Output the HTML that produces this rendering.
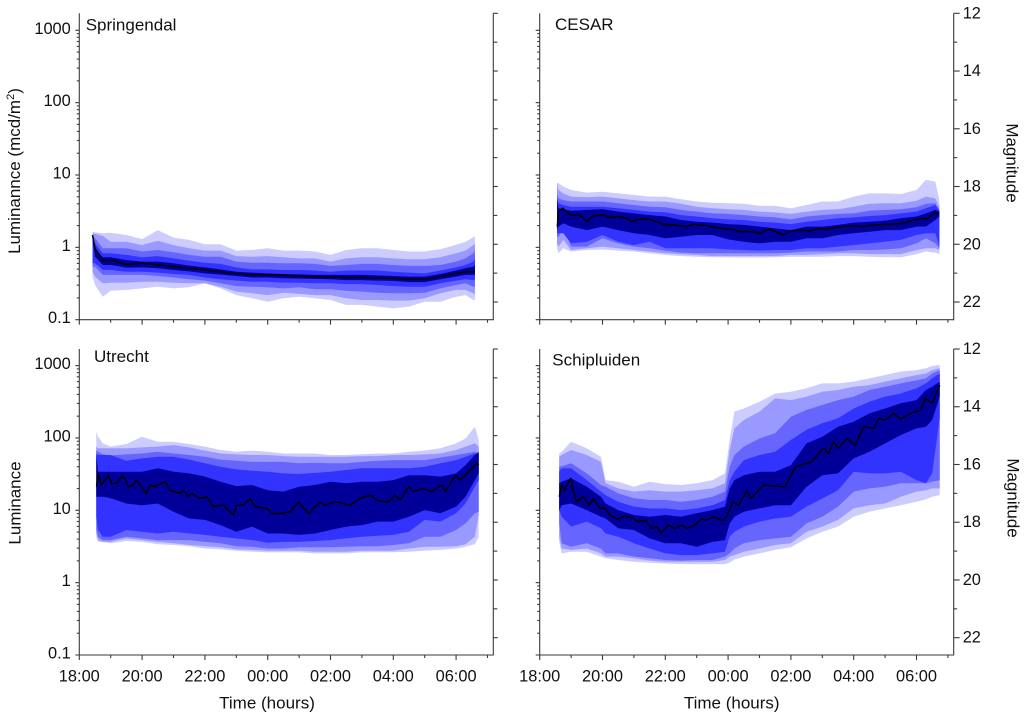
<!DOCTYPE html>
<html>
<head>
<meta charset="utf-8">
<title>Luminance by time at four sites</title>
<style>
html,body{margin:0;padding:0;background:#fff;}
svg{display:block;}
text{font-family:"Liberation Sans",Arial,sans-serif;font-size:16.4px;fill:#111;}
text.big{font-size:17px;}
</style>
</head>
<body>
<svg id="chart" xmlns="http://www.w3.org/2000/svg" width="1024" height="718" viewBox="0 0 1024 718"></svg>
<script>
// Hours after 18:00; every other series is in magnitude (right-hand axis).
const springTime = [0.42,0.5,0.75,1,1.5,2,2.5,3,3.5,4,4.5,5,5.5,6,6.5,7,7.5,8,8.5,9,9.5,10,10.5,11,11.5,12,12.3,12.55,12.6];
const springU1 = [19.57,19.59,19.62,19.60,19.68,19.82,19.51,19.77,19.85,20.0,20.0,20.22,20.2,20.14,20.22,20.22,20.25,20.37,20.2,20.14,20.14,20.2,20.25,20.25,20.17,20.02,19.91,19.76,19.71];
const springU2 = [19.62,19.64,19.71,19.91,19.91,20.03,19.88,20.03,20.14,20.22,20.22,20.41,20.43,20.41,20.45,20.49,20.49,20.60,20.49,20.45,20.45,20.49,20.52,20.52,20.45,20.31,20.22,20.03,19.97];
const springU3 = [19.68,19.79,20.14,20.14,20.14,20.25,20.2,20.28,20.37,20.43,20.43,20.6,20.64,20.64,20.66,20.66,20.68,20.75,20.72,20.68,20.68,20.72,20.75,20.75,20.72,20.6,20.49,20.31,20.2];
const springU4 = [19.74,19.97,20.31,20.31,20.37,20.45,20.41,20.49,20.57,20.64,20.68,20.8,20.87,20.87,20.89,20.89,20.91,20.95,20.91,20.91,20.91,20.95,20.98,21.01,20.91,20.8,20.72,20.6,20.49];
const springU5 = [19.76,20.14,20.45,20.45,20.55,20.6,20.6,20.66,20.74,20.8,20.87,20.95,20.98,21.01,21.03,21.04,21.06,21.06,21.06,21.06,21.08,21.1,21.12,21.12,21.03,20.91,20.83,20.78,20.72];
const springMedian = [19.68,20.14,20.57,20.55,20.70,20.66,20.72,20.78,20.83,20.89,20.95,21.02,21.06,21.06,21.08,21.11,21.13,21.13,21.15,21.15,21.17,21.18,21.21,21.21,21.12,21.01,20.95,20.95,20.95];
const springL5 = [19.85,20.43,20.72,20.72,20.81,20.8,20.83,20.89,20.94,21.01,21.05,21.1,21.15,21.15,21.18,21.19,21.2,21.21,21.24,21.24,21.26,21.27,21.31,21.31,21.21,21.12,21.06,21.06,21.06];
const springL4 = [20.66,20.66,20.89,20.89,20.95,20.95,20.98,21.03,21.06,21.15,21.21,21.26,21.3,21.3,21.33,21.33,21.35,21.35,21.38,21.38,21.41,21.45,21.47,21.47,21.35,21.26,21.21,21.24,21.24];
const springL3 = [20.78,20.78,21.06,21.06,21.06,21.06,21.1,21.15,21.21,21.26,21.35,21.45,21.47,21.49,21.53,21.49,21.56,21.56,21.61,21.64,21.68,21.7,21.7,21.68,21.53,21.41,21.35,21.47,21.47];
const springL2 = [20.95,21.12,21.35,21.33,21.33,21.3,21.3,21.33,21.35,21.35,21.47,21.64,21.7,21.76,21.68,21.72,21.76,21.76,21.87,21.93,21.93,21.95,21.95,21.87,21.7,21.58,21.58,21.7,21.76];
const springL1 = [21.12,21.41,21.82,21.61,21.58,21.53,21.47,21.53,21.49,21.35,21.53,21.76,21.87,21.99,21.87,21.82,21.87,21.93,22.1,22.1,22.16,22.22,22.16,21.99,21.99,21.82,21.76,21.93,21.93];

const cesarTime = [0.55,0.6,0.75,1,1.5,2,2.5,3,3.5,4,4.5,5,5.5,6,6.5,7,7.5,8,8.5,9,9.5,10,10.5,11,11.5,12,12.3,12.6,12.73];
const cesarU1 = [17.87,17.89,18.0,18.12,18.21,18.18,18.24,18.29,18.35,18.35,18.44,18.52,18.56,18.58,18.6,18.67,18.67,18.75,18.64,18.52,18.52,18.35,18.24,18.24,18.26,18.12,17.77,17.83,18.47];
const cesarU2 = [17.95,18.12,18.24,18.35,18.37,18.35,18.41,18.47,18.52,18.52,18.6,18.7,18.75,18.79,18.81,18.87,18.9,18.95,18.87,18.81,18.79,18.7,18.6,18.58,18.58,18.49,18.35,18.41,18.7];
const cesarU3 = [18.24,18.41,18.47,18.52,18.52,18.52,18.58,18.64,18.7,18.72,18.81,18.87,18.93,18.95,18.99,19.04,19.07,19.14,19.04,18.99,18.95,18.93,18.84,18.81,18.79,18.72,18.6,18.58,18.81];
const cesarU4 = [18.41,18.58,18.64,18.7,18.7,18.7,18.75,18.81,18.87,18.89,18.99,19.04,19.1,19.14,19.16,19.22,19.25,19.3,19.22,19.16,19.1,19.07,19.02,18.99,18.93,18.87,18.75,18.64,18.84];
const cesarU5 = [18.47,18.75,18.79,18.84,18.81,18.79,18.87,18.93,18.99,19.04,19.16,19.22,19.25,19.3,19.33,19.39,19.45,19.51,19.39,19.39,19.33,19.25,19.22,19.18,19.1,19.04,18.93,18.81,18.87];
const cesarMedianTime = [0.56,0.6,0.73,0.97,1.29,1.5,1.71,2.03,2.24,2.51,2.77,2.93,3.2,3.46,4.0,4.26,4.69,4.9,5.32,5.75,6.23,6.39,6.71,7.02,7.29,7.77,7.98,8.3,8.62,8.88,9.1,9.57,9.89,10.32,10.64,11.17,11.59,12.13,12.34,12.55,12.71];
const cesarMedian = [19.39,18.87,18.75,18.99,18.99,19.22,19.01,18.99,19.08,19.04,19.1,19.22,19.12,19.12,19.33,19.33,19.39,19.31,19.36,19.45,19.51,19.56,19.56,19.62,19.47,19.68,19.54,19.51,19.54,19.45,19.48,19.39,19.36,19.39,19.33,19.31,19.27,19.1,19.12,18.93,18.93];
const cesarL5 = [19.51,19.39,19.27,19.39,19.51,19.39,19.51,19.62,19.68,19.79,19.74,19.68,19.68,19.83,19.91,19.97,19.91,19.91,19.79,19.79,19.68,19.62,19.57,19.51,19.51,19.39,19.39,19.16,19.04];
const cesarL4 = [19.62,19.62,19.62,19.97,19.91,19.68,19.91,20.03,19.91,20.14,20.14,20.14,20.14,20.18,20.2,20.22,20.2,20.2,20.14,20.14,20.08,20.03,19.97,19.91,19.85,19.68,19.62,19.62,20.08];
const cesarL3 = [19.74,19.74,19.45,20.08,20.08,19.79,19.97,20.08,20.14,20.22,20.29,20.31,20.31,20.31,20.31,20.31,20.31,20.29,20.25,20.25,20.25,20.2,20.2,20.18,20.14,19.97,19.79,19.97,20.14];
const cesarL2 = [19.97,20.08,19.85,20.2,20.14,20.08,20.14,20.2,20.25,20.31,20.34,20.37,20.41,20.41,20.41,20.41,20.41,20.37,20.37,20.34,20.31,20.31,20.34,20.34,20.34,20.2,20.14,20.14,20.2];
const cesarL1 = [20.14,20.31,20.14,20.25,20.2,20.18,20.22,20.25,20.31,20.37,20.41,20.43,20.45,20.45,20.46,20.46,20.45,20.43,20.43,20.43,20.41,20.41,20.43,20.45,20.45,20.34,20.25,20.29,20.34];

const utrechtTime = [0.54,0.6,0.75,1,1.5,2,2.5,3,3.5,4,4.5,5,5.5,6,6.5,7,7.5,8,8.5,9,9.5,10,10.5,11,11.5,12,12.3,12.6,12.72];
const utrechtU1 = [14.87,15.04,15.27,15.38,15.29,15.04,15.21,15.21,15.29,15.38,15.5,15.56,15.52,15.56,15.62,15.62,15.62,15.67,15.67,15.64,15.62,15.62,15.56,15.52,15.44,15.27,15.1,14.69,15.15];
const utrechtU2 = [15.38,15.44,15.44,15.44,15.44,15.41,15.38,15.33,15.41,15.52,15.62,15.65,15.67,15.67,15.71,15.73,15.73,15.73,15.73,15.71,15.71,15.67,15.67,15.65,15.62,15.5,15.38,15.27,15.38];
const utrechtU3 = [15.5,15.56,15.65,15.69,15.65,15.62,15.56,15.62,15.67,15.73,15.83,15.87,15.91,15.91,15.91,15.96,15.94,15.96,15.96,15.91,15.87,15.85,15.85,15.85,15.76,15.67,15.62,15.56,15.62];
const utrechtU4 = [15.62,15.67,15.67,15.67,15.87,15.79,15.73,15.73,15.83,15.96,16.08,16.17,16.22,16.25,16.31,16.33,16.29,16.25,16.19,16.13,16.13,16.13,16.13,16.08,15.96,15.85,15.73,15.62,15.67];
const utrechtU5 = [15.67,16.25,16.25,16.25,16.25,16.25,16.13,16.25,16.31,16.42,16.6,16.75,16.71,16.89,16.94,16.77,16.71,16.6,16.65,16.6,16.6,16.54,16.37,16.37,16.42,16.31,16.02,15.67,15.56];
const utrechtMedianTime = [0.55,0.6,0.71,0.92,1.03,1.19,1.35,1.45,1.56,1.72,1.83,1.93,2.14,2.25,2.41,2.73,2.89,3.21,3.31,3.47,3.58,3.84,4.06,4.27,4.59,4.91,5.01,5.23,5.44,5.6,5.97,6.13,6.39,6.72,6.98,7.3,7.67,7.83,8.15,8.62,8.94,9.27,9.53,9.85,10.06,10.22,10.49,10.65,10.92,11.23,11.55,11.66,11.82,11.98,12.14,12.4,12.67,12.72];
const utrechtMedian = [16.77,16.31,16.71,16.37,16.66,16.66,16.42,16.48,16.77,16.71,16.54,16.71,17.0,16.71,16.77,16.6,16.89,17.0,16.89,17.12,17.0,17.18,17.12,17.46,17.41,17.75,17.41,17.41,17.18,17.46,17.52,17.7,17.7,17.64,17.31,17.7,17.31,17.41,17.29,17.41,17.18,17.06,17.27,17.29,17.06,17.23,16.77,16.94,16.83,16.94,16.71,16.94,16.66,16.37,16.54,16.25,15.96,16.02];
const utrechtL5 = [17.12,17.12,17.12,17.17,17.35,17.41,17.35,17.64,17.87,17.92,18.1,18.33,18.15,18.39,18.39,18.44,18.39,18.27,18.15,18.1,17.98,17.98,17.81,17.58,17.69,17.46,17.12,16.54,16.31];
const utrechtL4 = [17.81,18.27,18.5,18.5,18.27,18.33,18.39,18.33,18.39,18.44,18.5,18.56,18.62,18.71,18.68,18.68,18.65,18.62,18.56,18.5,18.47,18.44,18.33,17.92,17.98,17.69,17.35,16.77,16.54];
const utrechtL3 = [18.27,18.5,18.62,18.62,18.5,18.56,18.62,18.62,18.62,18.68,18.73,18.83,18.85,18.91,18.91,18.87,18.87,18.87,18.85,18.83,18.83,18.79,18.73,18.5,18.5,18.27,18.04,17.69,17.64];
const utrechtL2 = [18.39,18.62,18.68,18.68,18.56,18.62,18.68,18.73,18.79,18.83,18.87,18.94,18.96,18.99,18.99,18.99,19.02,19.02,19.02,18.99,18.99,18.99,18.91,18.85,18.85,18.83,18.76,18.5,17.75];
const utrechtL1 = [18.5,18.68,18.68,18.73,18.65,18.68,18.76,18.79,18.83,18.91,18.94,18.99,19.02,19.04,19.04,19.04,19.08,19.08,19.08,19.04,19.04,19.04,19.02,18.99,18.96,18.91,18.85,18.76,18.5];

const schipTime = [0.62,0.7,1,1.5,1.95,2.1,2.5,3,3.5,4,4.5,5,5.5,5.9,6.05,6.2,6.5,7,7.5,8,8.5,9,9.5,10,10.5,11,11.5,12,12.3,12.5,12.74];
const schipU1 = [15.62,15.56,15.21,15.44,15.73,16.54,16.6,16.77,16.6,16.68,16.71,16.65,16.54,16.31,15.15,14.17,14.06,13.83,13.54,13.48,13.36,13.19,13.19,13.13,13.02,12.9,12.78,12.73,12.67,12.59,12.55];
const schipU2 = [15.73,15.67,15.5,15.67,15.91,16.65,16.83,16.94,16.89,16.94,16.94,16.89,16.83,16.65,15.5,14.75,14.46,14.17,13.71,13.77,13.65,13.48,13.42,13.31,13.25,13.13,13.02,12.9,12.85,12.73,12.67];
const schipU3 = [16.08,16.06,15.96,16.31,16.71,16.77,17.0,17.17,17.23,17.23,17.29,17.23,17.12,16.94,16.08,15.67,15.38,15.1,14.92,14.35,14.11,13.94,13.77,13.65,13.42,13.31,13.19,13.08,13.02,12.85,12.73];
const schipU4 = [16.25,16.13,16.13,16.54,16.94,17.06,17.29,17.46,17.52,17.52,17.58,17.52,17.41,17.23,16.54,16.25,15.85,15.67,15.56,15.15,14.8,14.57,14.4,14.06,13.83,13.65,13.54,13.36,13.19,13.02,12.85];
const schipU5 = [16.65,16.6,16.48,16.77,17.12,17.35,17.58,17.75,17.81,17.75,17.81,17.69,17.58,17.46,16.83,16.54,16.37,16.25,16.25,16.02,15.27,15.04,14.69,14.52,14.23,14.06,13.88,13.77,13.42,13.31,13.13];
const schipMedianTime = [0.62,0.7,0.81,0.86,0.99,1.09,1.18,1.39,1.58,1.71,1.92,2.08,2.24,2.45,2.72,2.93,3.15,3.36,3.57,3.73,3.87,4.1,4.31,4.53,4.69,4.95,5.16,5.32,5.54,5.8,5.96,6.15,6.33,6.6,6.73,7.13,7.45,7.82,8.14,8.67,8.88,9.04,9.2,9.36,9.52,9.79,10.05,10.32,10.64,10.8,11.01,11.28,11.49,11.81,12.13,12.29,12.5,12.74];
const schipMedian = [17.12,16.71,16.89,16.71,16.48,17.0,17.29,17.12,17.41,17.18,17.52,17.52,17.75,17.9,17.79,17.84,17.99,17.93,18.22,18.16,18.37,18.1,18.22,18.1,18.22,18.1,17.87,17.93,17.81,17.95,17.81,17.29,17.41,16.91,17.18,16.71,16.75,16.77,16.08,15.91,15.62,15.44,15.62,15.21,15.44,15.1,15.33,14.69,14.75,14.4,14.46,14.23,14.44,14.23,14.12,13.71,13.88,13.25];
const schipL5 = [17.58,17.41,17.35,17.58,17.81,17.87,18.21,18.27,18.56,18.73,18.73,18.85,18.68,18.62,18.04,17.81,17.64,17.52,17.41,17.41,16.77,16.37,16.31,15.79,15.56,15.27,14.98,14.75,14.69,14.46,13.65];
const schipL4 = [17.58,17.81,18.15,17.98,18.21,18.39,18.5,18.73,18.91,19.08,19.14,19.14,19.08,19.02,18.5,18.33,18.15,17.98,17.87,17.81,17.46,17.18,16.89,16.25,16.31,16.31,16.25,16.54,16.65,16.31,14.4];
const schipL3 = [18.04,18.73,18.85,18.73,18.91,19.08,19.08,19.19,19.25,19.31,19.33,19.31,19.31,19.19,19.08,18.91,18.73,18.62,18.56,18.5,18.04,17.81,17.46,16.94,16.83,16.77,16.65,16.65,16.65,16.6,16.54];
const schipL2 = [18.5,18.91,18.96,18.91,19.08,19.19,19.19,19.25,19.33,19.37,19.37,19.37,19.37,19.31,19.19,19.14,19.02,18.91,18.79,18.73,18.33,18.15,17.92,17.52,17.41,17.35,17.12,16.94,16.89,16.83,16.83];
const schipL1 = [18.68,19.08,19.02,19.02,19.19,19.25,19.31,19.37,19.4,19.43,19.45,19.45,19.45,19.45,19.4,19.29,19.19,19.08,18.96,18.87,18.56,18.33,18.15,17.81,17.64,17.52,17.41,17.29,17.21,17.12,17.06];

const hourTickLabels = ["18:00","20:00","22:00","00:00","02:00","04:00","06:00"];
const hourTickValues = [0,2,4,6,8,10,12];
const hourMinorValues = [1,3,5,7,9,11,13];
const luminanceTickLabels = ["0.1","1","10","100","1000"];
const luminanceTickValues = [0.1,1,10,100,1000];
const minorFactors = [2,3,4,5,6,7,8,9];
const magnitudeTickLabels = ["12","14","16","18","20","22"];
const magnitudeTickValues = [12,14,16,18,20,22];
const magnitudeMinorValues = [13,15,17,19,21];
const bandColors = ["#ccccff","#9999ff","#6666ff","#3333ff","#000099"];

const svg = document.getElementById('chart');
const NS = 'http://www.w3.org/2000/svg';
const AXIS = '#3a3a3a';

function make(parent, tag, props, txt) {
  const el = document.createElementNS(NS, tag);
  for (const k in props) el.setAttribute(k, props[k]);
  if (txt !== undefined) el.textContent = txt;
  parent.appendChild(el);
  return el;
}

function drawLine(parent, x1, y1, x2, y2, name) {
  const el = make(parent, 'line', {x1:x1, y1:y1, x2:x2, y2:y2, stroke:AXIS, 'stroke-width':1.1});
  
  
  return el;
}

function drawPanel(cfg) {
  const left = cfg.left, right = cfg.right, top = cfg.top, bottom = cfg.bottom;
  const xScale = h => left + h * 31.4;
  const yLum = v => bottom - (Math.log10(v) + 1) * 72.35;
  const yMag = m => top + (m - 12) * 28.87;

  const g = make(svg, 'g', {});
  
  

  // percentile bands, outermost first
  cfg.bands.forEach((b, i) => {
    const up = b[0].map((m, j) => xScale(cfg.time[j]).toFixed(1) + ',' + yMag(m).toFixed(1));
    const lo = b[1].map((m, j) => xScale(cfg.time[j]).toFixed(1) + ',' + yMag(m).toFixed(1)).reverse();
    const poly = make(g, 'polygon', {points: up.concat(lo).join(' '), fill: bandColors[i]});
    
    
  });

  const medianPts = cfg.median.map((m, j) => xScale(cfg.medianTime[j]).toFixed(1) + ',' + yMag(m).toFixed(1)).join(' ');
  const med = make(g, 'polyline', {points: medianPts, fill:'none', stroke:'#000', 'stroke-width':1.5, 'stroke-linejoin':'round'});
  
  

  // axis lines
  drawLine(g, left, top, left, bottom + 0.5, cfg.name + '-left-axis');
  drawLine(g, right, top, right, bottom + 0.5, cfg.name + '-right-axis');
  drawLine(g, left - 4, bottom, right, bottom, cfg.name + '-bottom-axis');

  // left ticks
  luminanceTickValues.forEach((v, i) => {
    const y = yLum(v);
    if (i > 0) drawLine(g, left - 4, y, left, y, 'luminance-major-tick');
    if (cfg.showLeftLabels) {
      const t = make(g, 'text', {x: left - 8.5, y: y + 3.5, 'text-anchor':'end'}, luminanceTickLabels[i]);
      
      
    }
    if (v < 1000) minorFactors.forEach(f => {
      const ym = yLum(v * f);
      drawLine(g, left - 2.5, ym, left, ym, 'luminance-minor-tick');
    });
  });

  // bottom ticks
  hourTickValues.forEach((h, i) => {
    const x = xScale(h);
    drawLine(g, x, bottom, x, bottom + 5, 'time-major-tick');
    if (cfg.showTimeLabels) {
      const t = make(g, 'text', {x: x, y: bottom + 26.5, 'text-anchor':'middle'}, hourTickLabels[i]);
      
      
    }
  });
  hourMinorValues.forEach(h => {
    const x = xScale(h);
    drawLine(g, x, bottom, x, bottom + 3, 'time-minor-tick');
  });

  // right ticks
  magnitudeTickValues.forEach((m, i) => {
    const y = yMag(m);
    drawLine(g, right, y, right + (cfg.showRightLabels ? 6 : 4.5), y, 'magnitude-major-tick');
    if (cfg.showRightLabels) {
      const t = make(g, 'text', {x: right + 9, y: y + 5}, magnitudeTickLabels[i]);
      
      
    }
  });
  magnitudeMinorValues.forEach(m => {
    const y = yMag(m);
    drawLine(g, right, y, right + (cfg.showRightLabels ? 3.5 : 4), y, 'magnitude-minor-tick');
  });

  const label = make(g, 'text', {x: cfg.labelX, y: cfg.labelY, class:'big'}, cfg.title);
  
  
}

drawPanel({name:'springendal', title:'Springendal', left:79.3, right:493.3, top:13.3, bottom:319.7,
  labelX:85.7, labelY:30.5, showLeftLabels:true, showRightLabels:false, showTimeLabels:false,
  time:springTime, medianTime:springTime, median:springMedian,
  bands:[[springU1,springL1],[springU2,springL2],[springU3,springL3],[springU4,springL4],[springU5,springL5]]});
drawPanel({name:'cesar', title:'CESAR', left:539.7, right:953.7, top:13.3, bottom:319.7,
  labelX:555, labelY:30, showLeftLabels:false, showRightLabels:true, showTimeLabels:false,
  time:cesarTime, medianTime:cesarMedianTime, median:cesarMedian,
  bands:[[cesarU1,cesarL1],[cesarU2,cesarL2],[cesarU3,cesarL3],[cesarU4,cesarL4],[cesarU5,cesarL5]]});
drawPanel({name:'utrecht', title:'Utrecht', left:79.3, right:493.3, top:349, bottom:655,
  labelX:94, labelY:362, showLeftLabels:true, showRightLabels:false, showTimeLabels:true,
  time:utrechtTime, medianTime:utrechtMedianTime, median:utrechtMedian,
  bands:[[utrechtU1,utrechtL1],[utrechtU2,utrechtL2],[utrechtU3,utrechtL3],[utrechtU4,utrechtL4],[utrechtU5,utrechtL5]]});
drawPanel({name:'schipluiden', title:'Schipluiden', left:539.7, right:953.7, top:349, bottom:655,
  labelX:552.3, labelY:365.5, showLeftLabels:false, showRightLabels:true, showTimeLabels:true,
  time:schipTime, medianTime:schipMedianTime, median:schipMedian,
  bands:[[schipU1,schipL1],[schipU2,schipL2],[schipU3,schipL3],[schipU4,schipL4],[schipU5,schipL5]]});

// axis titles
const titleA = make(svg, 'text', {x:267, y:708.5, 'text-anchor':'middle', class:'big'}, 'Time (hours)');



const titleB = make(svg, 'text', {x:731.7, y:708.5, 'text-anchor':'middle', class:'big'}, 'Time (hours)');



const titleC = make(svg, 'text', {transform:'translate(20,171) rotate(-90)', 'text-anchor':'middle', class:'big'}, 'Luminannce (mcd/m');


const sup = make(titleC, 'tspan', {dy:-6, style:'font-size:11px'}, '2');
const close = make(titleC, 'tspan', {dy:6}, ')');

const titleD = make(svg, 'text', {transform:'translate(20.5,503) rotate(-90)', 'text-anchor':'middle', class:'big'}, 'Luminance');



const titleE = make(svg, 'text', {transform:'translate(1006.5,163) rotate(90)', 'text-anchor':'middle', class:'big'}, 'Magnitude');



const titleF = make(svg, 'text', {transform:'translate(1007.5,498) rotate(90)', 'text-anchor':'middle', class:'big'}, 'Magnitude');


</script>
</body>
</html>
